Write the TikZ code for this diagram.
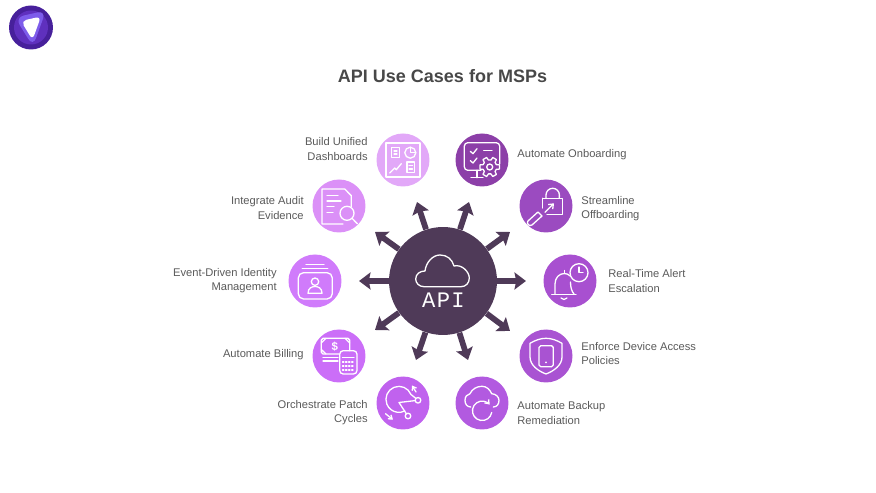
\documentclass[tikz,border=0pt]{standalone}
\usepackage{fontspec}
\setmainfont{Liberation Sans}
\newfontfamily\hubfont[LetterSpace=6]{Liberation Mono}
\usetikzlibrary{arrows.meta}
\definecolor{hubcolor}{HTML}{4F3A58}
\definecolor{labelgray}{HTML}{5A5A5A}
\definecolor{titlegray}{HTML}{484848}
\definecolor{logoa}{HTML}{47209B}
\definecolor{logob}{HTML}{5F30BE}
\definecolor{logoc}{HTML}{7D5CEA}
\tikzset{
  bubble/.style={circle,minimum size=1.06cm,inner sep=0},
  spoke/.style={draw=hubcolor,line width=0.115cm,-{Stealth[length=0.23cm,width=0.34cm,inset=0.035cm]}},
  tag/.style={font=\fontsize{6.35}{8}\selectfont,text=labelgray,inner sep=0},
  tagl/.style={tag,align=right,anchor=east},
  tagr/.style={tag,align=left,anchor=west},
  icon/.style={draw=white,line width=0.026cm,line cap=round,line join=round},
}
\begin{document}
\begin{tikzpicture}[x=0.02cm,y=0.02cm]
	\useasboundingbox (0,0) rectangle (876,493);
	
	%%%%% logo %%%%%
	\node[circle,fill=logoa,minimum size=0.88cm,inner sep=0] (logo) at (31,465.5) {};
	\begin{scope}[shift={(logo.center)}]
		\fill[logob] (0,0) circle (17);
		\fill[logoc,rounded corners=5] (-16,10) -- (15,17) -- (2,-19) -- cycle;
		\fill[white,rounded corners=3] (-10,6.5) -- (10,11) -- (1.5,-12.5) -- cycle;
	\end{scope}
	
	\node[font=\fontsize{10.25}{12}\selectfont\bfseries,text=titlegray,inner sep=0] (title) at (442.5,417) {API Use Cases for MSPs};
	
	%%%%% hub and tips %%%%%
	\node[circle,fill=hubcolor,minimum size=2.16cm,inner sep=0] (hub) at (443,212) {};
	\coordinate (tipboard) at (417,291);
	\coordinate (tipaudit) at (375,261);
	\coordinate (tipevent) at (359,212);
	\coordinate (tipbilling) at (375,163);
	\coordinate (tippatch) at (416,133);
	\coordinate (tiponboard) at (469,291);
	\coordinate (tipoffboard) at (510,261);
	\coordinate (tipalert) at (526,212);
	\coordinate (tipdevice) at (510,162);
	\coordinate (tipbackup) at (468,133);
	\draw[spoke] (hub) -- (tipboard);
	\draw[spoke] (hub) -- (tipaudit);
	\draw[spoke] (hub) -- (tipevent);
	\draw[spoke] (hub) -- (tipbilling);
	\draw[spoke] (hub) -- (tippatch);
	\draw[spoke] (hub) -- (tiponboard);
	\draw[spoke] (hub) -- (tipoffboard);
	\draw[spoke] (hub) -- (tipalert);
	\draw[spoke] (hub) -- (tipdevice);
	\draw[spoke] (hub) -- (tipbackup);
	
	\begin{scope}[shift={(hub.center)}]
		\draw[icon] (-19,-5.7) .. controls (-24,-5.7) and (-27.3,-2) .. (-27.3,2) .. controls (-27.3,7) and (-23,10) .. (-18,10) .. controls (-17,19) and (-10,26) .. (-3,26) .. controls (4,26) and (9,22) .. (11,15) .. controls (19,17) and (26.3,9) .. (26.3,3) .. controls (26.3,-2) and (23,-5.7) .. (18,-5.7) -- cycle;
	\end{scope}
	\node[font=\fontsize{12.6}{14}\selectfont\hubfont,text=white,inner sep=0] (apitext) at (443.5,193) {API};
	
	%%%%% bubbles %%%%%
	\node[bubble,fill={rgb,255:red,226;green,168;blue,248}] (board) at (403,333) {};
	\node[bubble,fill={rgb,255:red,219;green,144;blue,247}] (audit) at (339,287) {};
	\node[bubble,fill={rgb,255:red,208;green,123;blue,251}] (event) at (315,212) {};
	\node[bubble,fill={rgb,255:red,203;green,110;blue,248}] (billing) at (339,137) {};
	\node[bubble,fill={rgb,255:red,192;green,98;blue,238}] (patch) at (403,90) {};
	\node[bubble,fill={rgb,255:red,140;green,63;blue,168}] (onboard) at (482,333) {};
	\node[bubble,fill={rgb,255:red,155;green,75;blue,192}] (offboard) at (546,287) {};
	\node[bubble,fill={rgb,255:red,168;green,80;blue,208}] (alert) at (570,212) {};
	\node[bubble,fill={rgb,255:red,169;green,83;blue,210}] (device) at (546,137) {};
	\node[bubble,fill={rgb,255:red,178;green,90;blue,224}] (backup) at (482,90) {};
	
	%%%%% icons %%%%%
	\begin{scope}[shift={(board.center)}]
		\draw[icon] (-17,-17) rectangle (17,17);
		\draw[icon] (-11.5,2.3) rectangle (-3.5,12.3);
		\draw[icon] (-9,9) -- (-6,9) (-9,6) -- (-6,6);
		\draw[icon] (7.3,7.3) circle (5.5);
		\draw[icon] (7.3,12.8) -- (7.3,7.3) -- (12.8,7.3);
		\draw[icon] (-13.3,-13) -- (-8.3,-8) -- (-6.7,-9.7) -- (-1.7,-3.7);
		\draw[icon] (4,-12.7) rectangle (11.7,-2);
		\draw[icon] (6,-5.5) -- (9.5,-5.5) (6,-9) -- (9.5,-9);
	\end{scope}
	\begin{scope}[shift={(audit.center)}]
		\draw[icon] (4,-18) -- (-17,-18) -- (-17,17) -- (5.7,17) -- (12.3,10.3) -- (12.3,-0.7);
		\draw[icon] (-12,10.3) -- (-1,10.3) (-12,5) -- (2,5) (-12,-0.7) -- (-5,-0.7) (-12,-6.3) -- (-6,-6.3);
		\draw[icon] (8,-7.3) circle (7);
		\draw[icon] (13,-12.3) -- (18.3,-17.7);
	\end{scope}
	\begin{scope}[shift={(event.center)}]
		\draw[icon] (-9,16.7) -- (9,16.7) (-12.7,12.7) -- (12.7,12.7);
		\draw[icon,rounded corners=3] (-16.7,-18) rectangle (17.3,8.3);
		\draw[icon] (0,-0.7) circle (3.7);
		\draw[icon] (-7,-12.3) .. controls (-7,-7) and (-3,-5.5) .. (0,-5.5) .. controls (3,-5.5) and (7,-7) .. (7,-12.3) -- cycle;
	\end{scope}
	\begin{scope}[shift={(billing.center)}]
		\draw[icon,rounded corners=1] (0,2) -- (-17.7,2) -- (-17.7,17.7) -- (10.7,17.7) -- (10.7,5.3);
		\node[font=\fontsize{6.5}{7}\selectfont\bfseries,text=white,inner sep=0] (dollar) at (-4.3,9.5) {\$};
		\draw[icon] (-17.7,13) -- (-13,17.7) (6,17.7) -- (10.7,13) (-17.7,6.5) -- (-13,2);
		\draw[icon] (-16,-1.5) -- (-1,-1.5) (-16,-5) -- (-1,-5);
		\draw[icon,rounded corners=2] (0.7,-18) rectangle (18,5.3);
		\draw[icon] (3.5,-1.5) -- (15,-1.5);
		\draw[icon,densely dotted] (3.5,-6) -- (15.5,-6) (3.5,-10) -- (15.5,-10) (3.5,-14) -- (15.5,-14);
	\end{scope}
	\begin{scope}[shift={(patch.center)}]
		\draw[icon] (13,4.5) -- (8,8.5) arc (22:297:13);
		\draw[icon] (12.2,2.4) -- (-4,0.5) -- (3.5,-11);
		\draw[icon] (15,2.7) circle (2.8);
		\draw[icon] (5,-13) circle (2.8);
		\draw[icon,-{Straight Barb[length=0.07cm,width=0.1cm]}] (13,11) -- (9,17.5);
		\draw[icon,-{Straight Barb[length=0.07cm,width=0.1cm]}] (-17.5,-10.7) -- (-10,-16.7);
	\end{scope}
	\begin{scope}[shift={(onboard.center)}]
		\draw[icon,rounded corners=2] (-1,-10.3) -- (-17.7,-10.3) -- (-17.7,17.3) -- (17.7,17.3) -- (17.7,-4);
		\draw[icon] (-5,-10.3) -- (-5,-17.7) (-11,-17.7) -- (1,-17.7);
		\draw[icon] (-11.7,8.7) -- (-9,6.3) -- (-5,11.3) (-11.7,-0.7) -- (-9,-3) -- (-5,2);
		\draw[icon] (1.7,9.7) -- (10,9.7);
		\begin{scope}[shift={(7.7,-7)}]
			\draw[icon] (-12:10) \foreach \a in {0,60,120,180,240,300} {-- (\a-12:10) -- (\a+12:10) -- (\a+20:7) -- (\a+40:7)} -- cycle;
			\draw[icon] (0,0) circle (3);
		\end{scope}
	\end{scope}
	\begin{scope}[shift={(offboard.center)}]
		\draw[icon] (-3.3,7.7) -- (16.7,7.7) -- (16.7,-8.3) -- (1,-8.3);
		\draw[icon] (-3.3,7.7) -- (-3.3,-2);
		\draw[icon] (0,7.7) -- (0,11) arc (180:0:6.7) -- (13.3,7.7);
		\draw[icon,-{Straight Barb[length=0.08cm,width=0.13cm]}] (-1,-6.3) -- (8,2.7);
		\draw[icon] (-8,-6) -- (-4,-10) -- (-14,-19) .. controls (-17,-21) and (-20,-17) .. (-18,-15) -- cycle;
	\end{scope}
	\begin{scope}[shift={(alert.center)}]
		\draw[icon] (-18.3,-13.3) -- (6,-13.3);
		\draw[icon] (-15,-13) -- (-15,-3) .. controls (-15,3) and (-11,7.5) .. (-5.7,7.5) .. controls (-3,7.5) and (-1.5,6.5) .. (0,5);
		\draw[icon] (0.5,-1) .. controls (0.5,-6) and (1.5,-10) .. (4,-13);
		\draw[icon] (-5.7,7.5) -- (-5.7,10.5);
		\draw[icon] (-9,-17) .. controls (-7.5,-19) and (-4.5,-19) .. (-3,-17);
		\draw[icon] (9,8.3) circle (9);
		\draw[icon] (9,14) -- (9,8.3) -- (13,8.3);
	\end{scope}
	\begin{scope}[shift={(device.center)}]
		\draw[icon] (0,17.7) .. controls (6,17.7) and (11,15.5) .. (16,12.7) -- (16,-1) .. controls (16,-9) and (8,-15) .. (0,-18) .. controls (-8,-15) and (-16,-9) .. (-16,-1) -- (-16,12.7) .. controls (-11,15.5) and (-6,17.7) .. (0,17.7) -- cycle;
		\draw[icon,rounded corners=1] (-7,-10.7) rectangle (7.3,10.3);
		\fill[white] (0,-6.3) circle (1);
	\end{scope}
	\begin{scope}[shift={(backup.center)}]
		\draw[icon] (-11.3,-4) .. controls (-15,-4) and (-17,-1) .. (-17,2.7) .. controls (-17,6) and (-15,9) .. (-12,9.3) .. controls (-10,14) and (-5,16.7) .. (0,16.7) .. controls (5,16.7) and (8,13) .. (9.7,9.3) .. controls (14,9) and (17,6) .. (17,2.7) .. controls (17,-1) and (15,-4) .. (11.3,-4);
		\draw[icon,-{Straight Barb[length=0.07cm,width=0.11cm]}] (9.7,-9.5) arc (-10:-320:9.7);
	\end{scope}
	
	%%%%% labels %%%%%
	\node[tagl] (boardtag) at (368,344) {Build Unified\\Dashboards};
	\node[tagl] (audittag) at (304,285) {Integrate Audit\\Evidence};
	\node[tagl] (eventtag) at (277,212) {Event-Driven Identity\\Management};
	\node[tagl] (billingtag) at (304,138) {Automate Billing};
	\node[tagl] (patchtag) at (368,80) {Orchestrate Patch\\Cycles};
	\node[tagr] (onboardtag) at (517,338) {Automate Onboarding};
	\node[tagr] (offboardtag) at (581,284) {Streamline\\Offboarding};
	\node[tagr] (alerttag) at (608,212) {Real-Time Alert\\Escalation};
	\node[tagr] (devicetag) at (581,139.5) {Enforce Device Access\\Policies};
	\node[tagr] (backuptag) at (517,80) {Automate Backup\\Remediation};
\end{tikzpicture}
\end{document}
